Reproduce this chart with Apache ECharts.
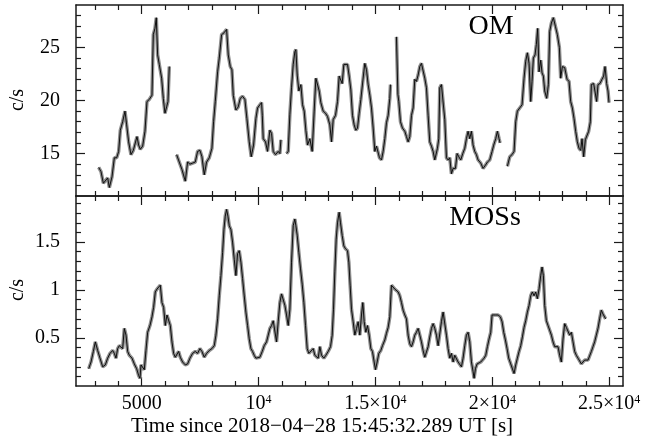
<!DOCTYPE html>
<html><head><meta charset="utf-8">
<script src="https://cdn.jsdelivr.net/npm/echarts@6/dist/echarts.min.js"></script>
<style>html,body{margin:0;padding:0;background:#fff}#c{width:664px;height:440px}</style>
</head><body><div id="c"></div>
<script>
// ---- data ----
const omTime = [3160,3260,3360,3470,3545,3616,3730,3830,3930,4015,4086,4186,4286,4357,4442,4542,4642,4727,4799,4870,4941,5041,5141,5226,5326,5440,5497,5568,5625,5682,5753,5853,5925,5996,6067,6124,6181,
6300,
6494,6608,6722,6865,6965,7065,7178,7292,7392,7492,7578,7677,7777,7891,8005,8076,8148,8248,8319,8418,8532,8632,8703,8789,8860,8917,9031,9131,9216,9316,9416,9501,9601,9686,9786,9886,9957,10057,10128,10160,10199,10299,10384,10484,10556,10627,10726,10840,10912,10955,
11080,
11197,11268,11339,11410,11482,11553,11596,11653,11724,11810,11881,11952,12023,12095,12194,12294,12379,12451,12522,12593,12664,12764,12864,12950,13049,13121,13192,13292,13377,13448,13520,13576,13648,13733,13805,13876,13947,14018,14090,14161,14232,14303,14375,14446,14503,14545,14617,14688,14759,14831,14902,14973,15044,15116,15173,15258,15329,15401,15472,15543,15614,15643,
15770,
15899,15960,15999,16070,16156,16256,16327,16398,16469,16541,16612,16683,16754,16826,16897,16968,17039,17111,17182,17253,17324,17396,17467,17538,17610,17652,17709,17752,17823,17894,17966,18037,18108,18179,18251,18322,18422,18493,18564,18650,18735,18821,18892,18963,19034,19106,19177,19248,19319,19391,19505,19604,19704,19790,19889,19989,20060,20146,20217,20288,20331,
20480,
20645,20745,20844,20930,21001,21072,21172,21272,21357,21428,21500,21571,21642,21699,21756,21827,21884,21941,21998,22070,22127,22184,22241,22326,22397,22454,22526,22611,22697,22782,22868,22925,22996,23096,23196,23281,23352,23424,23495,23566,23637,23708,23780,23837,23908,23979,24050,24122,24193,24236,24335,24406,24463,24520,24606,24691,24762,24820,24891,24948,24991];
const omRate = [13.7,13.3,12.2,12.5,12.7,11.8,12.8,14.6,14.6,15.2,17.2,18.0,19.0,17.7,16.1,14.9,15.3,15.2,16.6,15.8,15.4,15.7,17.1,19.9,20.1,20.5,26.2,26.8,27.8,24.3,23.4,22.1,20.2,18.8,19.4,19.9,23.2,
null,
14.9,14.2,13.5,12.4,14.2,14.0,14.1,14.2,15.2,15.3,14.7,13.0,14.2,14.6,15.5,18.0,19.9,22.7,24.0,26.2,26.4,26.7,24.3,23.2,22.9,20.5,19.1,19.4,20.2,20.4,20.1,18.3,16.1,14.7,15.8,18.3,19.3,19.6,19.8,18.6,16.4,16.1,15.2,17.2,16.9,15.2,14.9,15.2,15.0,16.3,
null,
15.0,15.2,18.7,21.2,23.4,24.6,24.8,22.4,20.9,21.5,19.6,19.0,17.2,15.8,16.4,15.2,19.0,22.1,22.0,20.9,19.8,19.0,18.8,18.5,17.7,16.1,18.2,18.6,19.9,22.3,22.4,21.6,23.4,23.5,23.4,22.3,21.0,18.6,17.7,17.2,17.4,18.8,20.1,20.1,22.7,23.5,22.9,21.5,20.5,19.3,17.4,15.2,15.7,15.8,14.6,14.4,15.2,16.4,17.9,18.6,20.2,21.5,
null,
26.0,20.6,19.9,18.0,17.4,17.1,16.6,16.1,16.6,18.6,19.3,22.0,21.8,22.4,23.2,23.5,23.4,22.1,21.2,18.6,16.1,15.7,15.2,14.4,14.4,15.5,16.4,21.2,21.5,21.6,18.2,14.6,14.4,14.6,13.1,13.6,13.6,15.0,14.7,14.4,15.0,15.5,16.4,17.1,16.4,17.1,15.8,15.2,14.9,14.4,14.1,13.6,13.9,14.2,14.4,15.2,15.8,16.4,17.1,16.4,16.0,
null,
13.8,14.7,14.9,15.2,18.0,19.0,19.3,19.6,22.1,23.7,24.5,23.5,19.9,21.8,24.0,24.3,25.3,26.8,22.7,23.8,22.6,22.3,20.9,20.2,21.5,26.5,27.3,27.8,27.0,26.2,25.0,22.1,23.2,23.1,22.0,21.8,19.9,19.3,18.3,17.1,16.1,15.5,15.3,16.4,14.7,16.3,16.4,17.1,18.0,21.5,21.6,21.5,19.9,21.5,21.6,22.0,22.3,23.2,21.6,20.9,19.8];

const mosTime = [2733,2832,2932,3018,3117,3217,3331,3445,3545,3645,3758,3830,3901,3972,4044,4115,4186,4257,4329,4400,4471,4585,4685,4785,4870,4927,4970,5041,5112,5183,5255,5354,5440,5511,5582,5654,5725,5796,5867,5939,6010,6081,6153,6224,6295,6366,6438,6509,6580,6651,6751,6865,6965,7065,7178,7292,7392,7492,7578,7677,7777,7891,8005,8105,8176,8248,8319,8390,8461,8518,8575,8632,8689,8746,8817,8888,8960,9031,9102,9173,9245,9316,9387,9458,9530,9601,9672,9743,9814,9886,9957,10057,10156,10242,10342,10413,10484,10556,10627,10698,10769,10840,10912,10983,11054,11126,11197,11268,11339,11410,11482,11553,11596,11653,11724,11795,11867,11938,12009,12080,12152,12237,12337,12408,12479,12550,12622,12693,12793,12878,12978,13078,13149,13206,13263,13320,13377,13448,13505,13576,13648,13719,13805,13862,13918,13975,14047,14118,14189,14260,14332,14403,14460,14517,14588,14660,14731,14802,14873,14945,15001,15073,15144,15230,15301,15401,15472,15543,15614,15686,15757,15828,15899,15971,16042,16113,16184,16256,16327,16398,16469,16541,16612,16683,16754,16826,16897,16968,17039,17111,17182,17253,17324,17396,17467,17538,17610,17681,17752,17823,17894,17966,18037,18108,18179,18251,18322,18393,18464,18536,18607,18678,18749,18821,18892,18963,19034,19106,19177,19220,19277,19348,19419,19505,19576,19647,19718,19790,19861,19932,19989,20060,20146,20246,20345,20416,20488,20559,20630,20701,20787,20858,20930,21001,21072,21143,21215,21286,21357,21428,21500,21571,21642,21713,21785,21856,21927,21998,22070,22127,22184,22241,22312,22383,22454,22526,22597,22668,22739,22810,22882,22953,23024,23096,23167,23238,23309,23381,23452,23523,23594,23666,23737,23808,23879,23951,24022,24093,24164,24236,24307,24378,24449,24520,24591,24662,24734,24805,24848];
const mosRate = [0.18,0.25,0.36,0.46,0.37,0.29,0.20,0.22,0.29,0.34,0.37,0.34,0.29,0.39,0.42,0.41,0.39,0.60,0.53,0.36,0.32,0.29,0.23,0.18,0.11,0.08,0.22,0.20,0.17,0.37,0.56,0.63,0.72,0.82,0.98,1.01,1.00,1.05,0.87,0.82,0.63,0.74,0.75,0.63,0.46,0.34,0.30,0.32,0.36,0.30,0.25,0.22,0.23,0.29,0.34,0.36,0.34,0.39,0.36,0.30,0.34,0.37,0.39,0.42,0.53,0.70,0.94,1.15,1.39,1.63,1.77,1.84,1.77,1.67,1.63,1.50,1.32,1.15,1.38,1.41,1.29,1.12,0.94,0.77,0.63,0.49,0.39,0.36,0.32,0.29,0.27,0.30,0.36,0.42,0.46,0.53,0.60,0.63,0.68,0.70,0.46,0.67,0.87,0.96,0.94,0.84,0.74,0.63,0.80,1.29,1.67,1.74,1.67,1.57,1.39,1.22,1.06,0.87,0.63,0.39,0.34,0.32,0.39,0.32,0.32,0.29,0.41,0.32,0.29,0.32,0.36,0.41,0.53,0.80,1.19,1.53,1.70,1.81,1.70,1.57,1.46,1.43,1.41,1.29,1.05,0.80,0.67,0.53,0.60,0.67,0.53,0.74,0.87,0.67,0.56,0.63,0.53,0.39,0.36,0.25,0.17,0.25,0.34,0.37,0.42,0.48,0.55,0.61,0.72,1.05,1.06,1.01,1.00,0.98,0.94,0.87,0.79,0.74,0.70,0.53,0.44,0.41,0.46,0.53,0.56,0.60,0.53,0.46,0.37,0.30,0.32,0.41,0.51,0.60,0.65,0.60,0.53,0.42,0.41,0.67,0.77,0.75,0.53,0.39,0.29,0.34,0.25,0.32,0.32,0.25,0.23,0.20,0.29,0.42,0.53,0.56,0.46,0.25,0.15,0.08,0.18,0.23,0.25,0.25,0.27,0.29,0.32,0.41,0.49,0.56,0.74,0.75,0.74,0.74,0.72,0.67,0.56,0.48,0.39,0.29,0.23,0.22,0.13,0.22,0.29,0.36,0.42,0.51,0.61,0.68,0.77,0.84,0.94,0.98,0.94,0.98,0.91,1.01,1.15,1.24,1.15,0.84,0.68,0.63,0.65,0.53,0.46,0.41,0.39,0.41,0.32,0.25,0.49,0.65,0.61,0.60,0.53,0.56,0.46,0.36,0.32,0.29,0.27,0.23,0.25,0.27,0.29,0.27,0.29,0.36,0.41,0.46,0.53,0.60,0.70,0.79,0.75,0.74,0.70];

const xRange = [2190, 25590];
const xMajorTicks = [5000, 10000, 15000, 20000, 25000];
const xMajorLabels = ['5000', '10{sup|4}', '1.5×10{sup|4}', '2×10{sup|4}', '2.5×10{sup|4}'];
const xMinorTicks = [3000,4000,6000,7000,8000,9000,11000,12000,13000,14000,16000,17000,18000,19000,21000,22000,23000,24000];
const omRange = [11, 29];
const omMajorTicks = [15, 20, 25];
const omMajorLabels = ['15', '20', '25'];
const omMinorTicks = [12,13,14,16,17,18,19,21,22,23,24,26,27,28];
const mosRange = [0, 1.98];
const mosMajorTicks = [0.5, 1, 1.5];
const mosMajorLabels = ['0.5', '1', '1.5'];
const mosMinorTicks = [0.1,0.2,0.3,0.4,0.6,0.7,0.8,0.9,1.1,1.2,1.3,1.4,1.6,1.7,1.8,1.9];
const panelNames = ['OM', 'MOSs'];
const xTitle = 'Time since 2018−04−28 15:45:32.289 UT [s]';
const yTitle = 'c/s';

// ---- chart ----
const FONT = 'Liberation Serif';
const AX = '#1a1a1a';
function pick(ticks, labels, v) {
  for (let i = 0; i < ticks.length; i++) if (Math.abs(ticks[i] - v) < 1e-9) return labels[i];
  return '';
}
function labelCfg(ticks, labels, margin) {
  if (!labels) return { show: false };
  return {
    show: true, customValues: ticks, margin: margin, color: '#000',
    fontFamily: FONT, fontSize: 20,
    formatter: v => pick(ticks, labels, v),
    rich: { sup: { fontSize: 12, fontFamily: FONT, color: '#000', verticalAlign: 'top', lineHeight: 12 } }
  };
}
function xAx(grid, pos, ticks, len, showLine, labels) {
  return {
    type: 'value', gridIndex: grid, position: pos, min: xRange[0], max: xRange[1],
    axisLine: { show: showLine, onZero: false, lineStyle: { color: AX, width: 1.5 } },
    axisTick: { show: true, inside: true, length: len, customValues: ticks, lineStyle: { color: AX, width: 1.2 } },
    axisLabel: labelCfg(ticks, labels, 8),
    splitLine: { show: false }
  };
}
function yAx(grid, pos, range, ticks, len, showLine, labels) {
  return {
    type: 'value', gridIndex: grid, position: pos, min: range[0], max: range[1],
    axisLine: { show: showLine, onZero: false, lineStyle: { color: AX, width: 1.5 } },
    axisTick: { show: true, inside: true, length: len, customValues: ticks, lineStyle: { color: AX, width: 1.2 } },
    axisLabel: labelCfg(ticks, labels, 16),
    splitLine: { show: false }
  };
}
const xAxes = [], yAxes = [];
[0, 1].forEach(g => {
  xAxes.push(xAx(g, 'bottom', xMajorTicks, 9, true, g === 1 ? xMajorLabels : null));
  xAxes.push(xAx(g, 'top', xMajorTicks, 9, true, null));
  xAxes.push(xAx(g, 'bottom', xMinorTicks, 5, false, null));
  xAxes.push(xAx(g, 'top', xMinorTicks, 5, false, null));
  const r = g === 0 ? omRange : mosRange;
  const mj = g === 0 ? omMajorTicks : mosMajorTicks;
  const ml = g === 0 ? omMajorLabels : mosMajorLabels;
  const mn = g === 0 ? omMinorTicks : mosMinorTicks;
  yAxes.push(yAx(g, 'left', r, mj, 9, true, ml));
  yAxes.push(yAx(g, 'right', r, mj, 9, true, null));
  yAxes.push(yAx(g, 'left', r, mn, 5, false, null));
  yAxes.push(yAx(g, 'right', r, mn, 5, false, null));
});
const omData = omTime.map((t, i) => [t, omRate[i]]);
const mosData = mosTime.map((t, i) => [t, mosRate[i]]);
function lineSeries(data, grid, color, width, z) {
  return {
    type: 'line', data: data, xAxisIndex: grid * 4, yAxisIndex: grid * 4,
    showSymbol: false, symbol: 'none', connectNulls: false, z: z,
    lineStyle: { color: color, width: width }, silent: true, animation: false
  };
}
const txt = (text, x, y, size, rot) => ({
  type: 'text', x: x, y: y, rotation: rot || 0, silent: true,
  style: { text: text, font: size + 'px "' + FONT + '"', fill: '#000',
    textAlign: 'center', textVerticalAlign: 'middle', align: 'center', verticalAlign: 'middle' }
});
const chart = echarts.init(document.getElementById('c'), null, { renderer: 'canvas' });
chart.setOption({
  animation: false,
  backgroundColor: '#fff',
  grid: [
    { left: 76, top: 5, width: 547, height: 191 },
    { left: 76, top: 196, width: 547, height: 190 }
  ],
  xAxis: xAxes,
  yAxis: yAxes,
  series: [
    lineSeries(omData, 0, '#8e8e8e', 3.5, 2),
    lineSeries(omData, 0, '#000', 0.9, 3),
    lineSeries(mosData, 1, '#8e8e8e', 3.5, 2),
    lineSeries(mosData, 1, '#000', 0.9, 3)
  ],
  graphic: [
    txt(panelNames[0], 491, 27, 28),
    txt(panelNames[1], 485, 218, 28),
    txt(yTitle, 18, 100, 20, Math.PI / 2),
    txt(yTitle, 18, 290, 20, Math.PI / 2),
    txt(xTitle, 322, 426, 21)
  ]
});
</script></body></html>
